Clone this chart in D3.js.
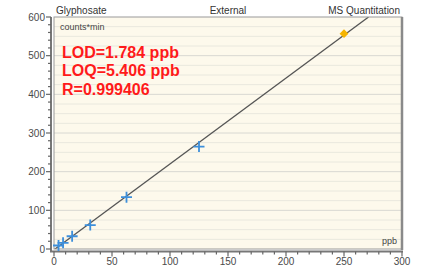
<!DOCTYPE html>
<html><head><meta charset="utf-8">
<script src="https://cdn.jsdelivr.net/npm/d3@7"></script>
<style>body{margin:0;background:#fff;}svg{display:block;font-family:"Liberation Sans",Arial,sans-serif;}</style>
</head><body>
<svg id="c" width="431" height="275"></svg>
<script>
const concentrations = [3.906, 7.8125, 15.625, 31.25, 62.5, 125];
const responses = [9, 16, 33, 62, 134, 265];
const highlightX = [250];
const highlightY = [557];
const xTicks = [0, 50, 100, 150, 200, 250, 300];
const yTicks = [0, 100, 200, 300, 400, 500, 600];
const fitSlope = 2.22;
const fitIntercept = -2;
const headerLabels = ["Glyphosate", "External", "MS Quantitation"];
const statLines = ["LOD=1.784 ppb", "LOQ=5.406 ppb", "R=0.999406"];

const svg = d3.select("#c");
const L = 54, R = 402, T = 17, B = 249;
const x = d3.scaleLinear().domain([0, 300]).range([L, R]);
const y = d3.scaleLinear().domain([0, 600]).range([B, T]);

svg.append("rect").attr("x", L).attr("y", T).attr("width", R - L).attr("height", B - T)
  .attr("fill", "#fdf9ec");

const grid = d3.range(25, 600, 25);
svg.append("g").selectAll("line").data(grid).join("line")
  .attr("x1", L).attr("x2", R).attr("y1", d => y(d)).attr("y2", d => y(d))
  .attr("stroke", d => d % 100 === 0 ? "#d8d8d2" : "#e9e8de").attr("stroke-width", 1);

svg.append("clipPath").attr("id", "clip").append("rect")
  .attr("x", L).attr("y", T).attr("width", R - L).attr("height", B - T);

const xEnd = (600 - fitIntercept) / fitSlope;
svg.append("line").attr("clip-path", "url(#clip)")
  .attr("x1", x(0)).attr("y1", y(fitIntercept)).attr("x2", x(xEnd)).attr("y2", y(600))
  .attr("stroke", "#555").attr("stroke-width", 1.3);

svg.append("rect").attr("x", L).attr("y", T).attr("width", R - L).attr("height", B - T)
  .attr("fill", "none").attr("stroke", "#9a9a9a").attr("stroke-width", 1);
svg.append("line").attr("x1", R).attr("x2", R).attr("y1", T).attr("y2", B + 1)
  .attr("stroke", "#8a8a8a").attr("stroke-width", 2.5);

const yAxisX = 51;
svg.append("line").attr("x1", yAxisX).attr("x2", yAxisX).attr("y1", T).attr("y2", B + 3)
  .attr("stroke", "#777").attr("stroke-width", 2);
svg.append("g").selectAll("line").data(d3.range(0, 601, 20)).join("line")
  .attr("x1", d => d % 100 === 0 ? yAxisX - 5 : yAxisX - 3).attr("x2", yAxisX)
  .attr("y1", d => y(d)).attr("y2", d => y(d)).attr("stroke", "#666").attr("stroke-width", 1.2);
svg.append("g").selectAll("text").data(yTicks).join("text")
  .attr("x", yAxisX - 6).attr("y", d => y(d) + 3.5).attr("text-anchor", "end")
  .attr("font-size", 10).attr("fill", "#4a4a4a").text(d => d);

const xAxisY = 251.5;
svg.append("line").attr("x1", yAxisX - 1).attr("x2", R + 1).attr("y1", xAxisY).attr("y2", xAxisY)
  .attr("stroke", "#777").attr("stroke-width", 2);
svg.append("g").selectAll("line").data(d3.range(0, 301, 10)).join("line")
  .attr("x1", d => x(d)).attr("x2", d => x(d))
  .attr("y1", xAxisY).attr("y2", d => d % 50 === 0 ? xAxisY + 5 : xAxisY + 3)
  .attr("stroke", "#666").attr("stroke-width", 1.2);
svg.append("g").selectAll("text").data(xTicks).join("text")
  .attr("x", d => x(d)).attr("y", 265).attr("text-anchor", "middle")
  .attr("font-size", 10).attr("fill", "#4a4a4a").text(d => d);

svg.append("text").attr("x", 56).attr("y", 14).attr("font-size", 10).attr("fill", "#333").text(headerLabels[0]);
svg.append("text").attr("x", 228).attr("y", 14).attr("text-anchor", "middle").attr("font-size", 10).attr("fill", "#333").text(headerLabels[1]);
svg.append("text").attr("x", 400).attr("y", 14).attr("text-anchor", "end").attr("font-size", 10).attr("fill", "#333").text(headerLabels[2]);
svg.append("text").attr("x", 60).attr("y", 30).attr("font-size", 9).attr("fill", "#444").text("counts*min");
svg.append("text").attr("x", 397).attr("y", 244).attr("text-anchor", "end").attr("font-size", 9).attr("fill", "#444").text("ppb");

svg.append("g").selectAll("text").data(statLines).join("text")
  .attr("x", 62).attr("y", (d, i) => 57.5 + i * 18.5)
  .attr("font-family", "'Liberation Sans', sans-serif").attr("font-weight", "bold")
  .attr("font-size", 16).attr("fill", "#ff1a1a").text(d => d);

const pts = concentrations.map((c, i) => [c, responses[i]]);
const s = 5.5;
const g = svg.append("g").attr("stroke", "#3d8fdb").attr("stroke-width", 1.8);
g.selectAll("path").data(pts).join("path")
  .attr("d", d => `M${x(d[0]) - s},${y(d[1])}H${x(d[0]) + s}M${x(d[0])},${y(d[1]) - s}V${y(d[1]) + s}`);

svg.append("g").selectAll("path").data(highlightX.map((c, i) => [c, highlightY[i]])).join("path")
  .attr("transform", d => `translate(${x(d[0])},${y(d[1])})`)
  .attr("d", d3.symbol().type(d3.symbolDiamond2).size(50))
  .attr("fill", "#f5b400");
</script>
</body></html>
